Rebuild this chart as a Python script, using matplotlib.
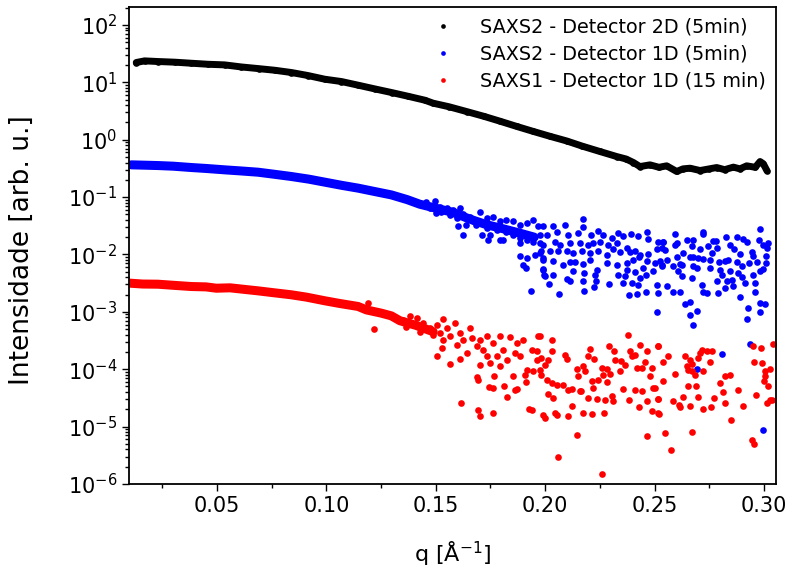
import numpy as np
import matplotlib
matplotlib.use('Agg')
import matplotlib.pyplot as plt
from matplotlib.ticker import MultipleLocator, FormatStrFormatter, LogLocator, NullFormatter

# SAXS2 - detector 2D: readings along the (dense) curve
black_q = [0.0131, 0.0169, 0.0230, 0.0307, 0.0380, 0.0459, 0.0535, 0.0611, 0.0690, 0.0764,
           0.0840, 0.0916, 0.0993, 0.1069, 0.1145, 0.1221, 0.1300, 0.1373, 0.1450, 0.1488,
           0.1560, 0.1641, 0.1720, 0.1793, 0.1870, 0.1946, 0.2020, 0.2098, 0.2170, 0.2250,
           0.2327, 0.2370, 0.2403, 0.2433, 0.2479, 0.2520, 0.2555, 0.2601, 0.2630, 0.2662,
           0.2708, 0.2750, 0.2784, 0.2820, 0.2860, 0.2890, 0.2921, 0.2960, 0.2982, 0.2997, 0.3013]
black_I = [22.1, 23.6, 23.0, 22.4, 21.5, 20.6, 20.1, 18.5, 17.3, 16.2,
           14.8, 13.1, 11.3, 10.3, 8.9, 7.67, 6.6, 5.71, 4.87, 4.32,
           3.75, 3.09, 2.55, 2.10, 1.70, 1.39, 1.15, 0.95, 0.77, 0.622,
           0.508, 0.46, 0.40, 0.34, 0.364, 0.33, 0.35, 0.279, 0.31, 0.318,
           0.290, 0.31, 0.327, 0.30, 0.332, 0.31, 0.35, 0.33, 0.416, 0.38, 0.29]

# SAXS2 - detector 1D: smooth part at low q
blue_band_q = [0.0108, 0.0160, 0.0230, 0.0300, 0.0383, 0.0450, 0.0535, 0.0610, 0.0688, 0.0760,
               0.0840, 0.0920, 0.0992, 0.1070, 0.1145, 0.1220, 0.1297, 0.1370, 0.1427, 0.1500,
               0.1579, 0.1650, 0.1732, 0.1808, 0.1884, 0.1950]
blue_band_I = [0.364, 0.360, 0.354, 0.345, 0.327, 0.315, 0.298, 0.285, 0.271, 0.250,
               0.228, 0.205, 0.182, 0.160, 0.143, 0.125, 0.109, 0.090, 0.075, 0.064,
               0.054, 0.042, 0.033, 0.028, 0.0235, 0.020]

# SAXS2 - detector 1D: scattered points at high q (q, I)
blue_pts = [
    (0.1427, 0.0782), (0.1457, 0.0836), (0.1496, 0.0859), (0.1518, 0.0684), (0.1549, 0.0640),
    (0.1579, 0.0599), (0.1610, 0.0657), (0.1503, 0.0524), (0.1564, 0.0490), (0.1625, 0.0503),
    (0.1656, 0.0458), (0.1701, 0.0560), (0.1671, 0.0375), (0.1732, 0.0429), (0.1762, 0.0458),
    (0.1793, 0.0375), (0.1823, 0.0401), (0.1854, 0.0375), (0.1884, 0.0328), (0.1915, 0.0351),
    (0.1945, 0.0401), (0.1968, 0.0307), (0.1732, 0.0287), (0.1778, 0.0269), (0.1823, 0.0251),
    (0.1854, 0.0220), (0.1884, 0.0192), (0.1915, 0.0180), (0.1945, 0.0168), (0.1976, 0.0157),
    (0.1808, 0.0180), (0.1884, 0.0157), (0.1930, 0.0206), (0.1976, 0.0220), (0.1640, 0.0328),
    (0.1686, 0.0328), (0.1747, 0.0220), (0.1595, 0.0429), (0.1473, 0.0640), (0.1526, 0.0560),
    (0.1602, 0.0307), (0.1625, 0.0220), (0.1709, 0.0220), (0.1739, 0.0180), (0.1793, 0.0180),
    (0.1884, 0.00921), (0.1915, 0.00861), (0.1899, 0.00642), (0.1912, 0.00577), (0.1935, 0.00235),
    (0.1953, 0.00985), (0.1979, 0.0116), (0.1988, 0.00861), (0.1988, 0.00561), (0.1994, 0.00430),
    (0.1991, 0.0307), (0.2037, 0.0307), (0.2090, 0.0328), (0.2171, 0.0412), (0.2174, 0.0299),
    (0.2006, 0.0220), (0.2052, 0.0251), (0.2106, 0.0220), (0.2151, 0.0235), (0.2208, 0.0220),
    (0.2243, 0.0258), (0.2263, 0.0214), (0.2304, 0.0197), (0.2331, 0.0235), (0.2354, 0.0206),
    (0.2391, 0.0226), (0.2426, 0.0206), (0.2467, 0.0244), (0.2471, 0.0187), (0.2517, 0.0168),
    (0.2540, 0.0168), (0.1991, 0.0147), (0.2045, 0.0168), (0.2067, 0.0147), (0.2113, 0.0157),
    (0.2159, 0.0157), (0.2197, 0.0147), (0.2220, 0.0157), (0.2250, 0.0168), (0.2288, 0.0147),
    (0.2327, 0.0157), (0.2372, 0.0132), (0.2410, 0.0113), (0.2433, 0.00985), (0.2471, 0.0103),
    (0.2509, 0.0125), (0.2532, 0.0132), (0.1976, 0.0105), (0.2022, 0.0113), (0.2060, 0.0113),
    (0.2098, 0.0116), (0.2128, 0.0105), (0.2167, 0.0113), (0.2205, 0.0105), (0.2243, 0.0116),
    (0.2281, 0.00985), (0.2311, 0.0125), (0.2342, 0.0110), (0.2387, 0.0110), (0.2430, 0.00885),
    (0.2464, 0.00754), (0.2502, 0.00705), (0.2525, 0.00754), (0.1991, 0.00806), (0.2037, 0.00754),
    (0.2083, 0.00659), (0.2113, 0.00734), (0.2136, 0.00734), (0.2174, 0.00677), (0.2205, 0.00806),
    (0.2235, 0.00540), (0.2281, 0.00705), (0.2330, 0.00642), (0.2372, 0.00705), (0.2403, 0.00806),
    (0.2448, 0.00577), (0.2494, 0.00505), (0.2532, 0.00617), (0.1991, 0.00540), (0.2034, 0.00441),
    (0.1999, 0.00413), (0.2098, 0.00376), (0.2128, 0.00505), (0.2179, 0.00472), (0.2227, 0.00441),
    (0.2232, 0.00338), (0.2293, 0.00304), (0.2334, 0.00441), (0.2365, 0.00413), (0.2375, 0.00540),
    (0.2410, 0.00491), (0.2433, 0.00386), (0.2461, 0.00441), (0.2509, 0.00296), (0.2017, 0.00304),
    (0.2113, 0.00338), (0.2174, 0.00347), (0.2223, 0.00266), (0.2354, 0.00316), (0.2395, 0.00316),
    (0.2426, 0.00288), (0.2063, 0.00203), (0.2177, 0.00232), (0.2384, 0.00193), (0.2421, 0.00203),
    (0.2461, 0.00220), (0.2517, 0.00212), (0.2512, 0.00099),
    (0.2540, 0.0168), (0.2594, 0.0226), (0.2601, 0.0157), (0.2647, 0.0180), (0.2677, 0.0180),
    (0.2720, 0.0226), (0.2723, 0.0244), (0.2769, 0.0173), (0.2781, 0.0173), (0.2827, 0.0200),
    (0.2845, 0.0147), (0.2876, 0.0198), (0.2906, 0.0187), (0.2921, 0.0168), (0.2982, 0.0276),
    (0.2979, 0.0180), (0.2997, 0.0147), (0.3020, 0.0157), (0.3013, 0.0132), (0.2548, 0.0120),
    (0.2594, 0.0147), (0.2632, 0.0108), (0.2670, 0.0138), (0.2708, 0.0125), (0.2746, 0.0143),
    (0.2761, 0.0105), (0.2784, 0.0132), (0.2863, 0.0125), (0.2891, 0.0103), (0.2944, 0.0110),
    (0.2952, 0.00921), (0.3010, 0.00921), (0.2555, 0.00806), (0.2601, 0.00885), (0.2616, 0.00677),
    (0.2662, 0.00885), (0.2677, 0.00885), (0.2700, 0.00861), (0.2723, 0.00839), (0.2754, 0.00806),
    (0.2796, 0.00734), (0.2822, 0.00774), (0.2837, 0.00806), (0.2876, 0.00734), (0.2933, 0.00705),
    (0.2967, 0.00734), (0.3010, 0.00705), (0.2997, 0.00561), (0.2533, 0.00659), (0.2586, 0.00617),
    (0.2624, 0.00659), (0.2677, 0.00617), (0.2693, 0.00577), (0.2751, 0.00577), (0.2799, 0.00540),
    (0.2807, 0.00441), (0.2845, 0.00505), (0.2883, 0.00472), (0.2898, 0.00617), (0.2952, 0.00441),
    (0.2982, 0.00505), (0.2609, 0.00505), (0.2624, 0.00413), (0.2670, 0.00386), (0.2716, 0.00296),
    (0.2784, 0.00347), (0.2830, 0.00338), (0.2853, 0.00361), (0.2898, 0.00397), (0.2914, 0.00316),
    (0.2959, 0.00316), (0.2822, 0.00259), (0.2860, 0.00277), (0.2555, 0.00277), (0.2586, 0.00220),
    (0.2616, 0.00220), (0.2723, 0.00226), (0.2738, 0.00212), (0.2792, 0.00212), (0.2891, 0.00178),
    (0.2959, 0.00220), (0.2639, 0.00136), (0.2662, 0.00148), (0.2693, 0.00104), (0.2662, 0.000887),
    (0.2677, 0.000578), (0.2982, 0.00142), (0.3005, 0.00136), (0.2929, 0.00116), (0.2982, 0.00101),
    (0.2924, 0.000755), (0.2936, 2.77e-4), (0.2807, 1.83e-4), (0.2695, 1.02e-4), (0.2997, 8.8e-6),
]

# SAXS1 - detector 1D: smooth part at low q
red_band_q = [0.0101, 0.0160, 0.0230, 0.0300, 0.0383, 0.0450, 0.0497, 0.0560, 0.0630, 0.0688,
              0.0760, 0.0840, 0.0910, 0.0992, 0.1060, 0.1145, 0.1183, 0.1250, 0.1297, 0.1336,
              0.1410, 0.1488]
red_band_I = [0.00316, 0.00305, 0.00303, 0.00290, 0.00276, 0.00272, 0.00258, 0.00262, 0.00245, 0.00232,
              0.00215, 0.00198, 0.00180, 0.00156, 0.00140, 0.00124, 0.00108, 0.00095, 0.00085, 0.00070,
              0.00058, 0.00045]

# SAXS1 - detector 1D: scattered points at high q (q, I)
red_pts = [
    (0.1217, 5.0e-4), (0.1190, 1.45e-3),
    (0.1351, 7.26e-4), (0.1382, 8.30e-4), (0.1412, 7.76e-4), (0.1366, 5.55e-4), (0.1405, 5.93e-4),
    (0.1443, 6.35e-4), (0.1427, 4.54e-4), (0.1473, 5.19e-4), (0.1504, 5.93e-4), (0.1534, 7.45e-4),
    (0.1488, 3.97e-4), (0.1519, 4.25e-4), (0.1549, 5.19e-4), (0.1587, 6.35e-4), (0.1565, 3.72e-4),
    (0.1610, 4.25e-4), (0.1656, 5.19e-4), (0.1626, 3.25e-4), (0.1664, 3.48e-4), (0.1595, 2.66e-4),
    (0.1534, 3.25e-4), (0.1702, 3.25e-4), (0.1732, 3.82e-4), (0.1687, 2.49e-4), (0.1717, 2.18e-4),
    (0.1763, 2.84e-4), (0.1793, 3.72e-4), (0.1808, 2.18e-4), (0.1839, 3.62e-4), (0.1778, 1.67e-4),
    (0.1732, 1.67e-4), (0.1702, 1.19e-4), (0.1747, 1.28e-4), (0.1793, 1.12e-4), (0.1824, 1.46e-4),
    (0.1862, 1.91e-4), (0.1900, 3.25e-4), (0.1869, 2.84e-4), (0.1885, 1.67e-4), (0.1854, 7.47e-5),
    (0.1915, 9.77e-5), (0.1938, 2.18e-4), (0.1961, 1.46e-4), (0.1946, 9.13e-5), (0.1908, 7.99e-5),
    (0.1968, 3.82e-4), (0.1504, 1.67e-4), (0.1565, 1.24e-4), (0.1610, 1.50e-4), (0.1694, 6.54e-5),
    (0.1690, 7.27e-5), (0.1744, 4.87e-5), (0.1763, 4.68e-5), (0.1766, 7.47e-5), (0.1811, 5.00e-5),
    (0.1827, 3.26e-5), (0.1862, 4.26e-5), (0.1869, 4.50e-5), (0.1912, 5.87e-5), (0.1613, 2.56e-5),
    (0.1694, 1.91e-5), (0.1702, 1.54e-5), (0.1760, 1.72e-5), (0.1927, 2.01e-5), (0.1938, 1.96e-5),
    (0.1641, 1.91e-4), (0.1527, 2.33e-4),
    (0.1976, 3.82e-4), (0.2029, 3.17e-4), (0.1961, 2.04e-4), (0.1983, 1.56e-4), (0.2014, 1.46e-4),
    (0.2029, 2.04e-4), (0.1976, 9.77e-5), (0.1999, 1.19e-4), (0.1983, 7.99e-5), (0.2006, 6.54e-5),
    (0.2029, 5.71e-5), (0.2052, 5.35e-5), (0.2083, 5.35e-5), (0.2090, 1.78e-4), (0.2098, 1.50e-4),
    (0.2105, 4.38e-5), (0.2121, 4.50e-5), (0.2144, 1.00e-4), (0.2151, 7.47e-5), (0.2174, 1.15e-4),
    (0.2182, 9.13e-5), (0.2197, 1.67e-4), (0.2204, 2.24e-4), (0.2224, 1.50e-4), (0.2159, 4.09e-5),
    (0.2212, 6.11e-5), (0.2243, 6.54e-5), (0.2220, 4.68e-5), (0.2258, 1.04e-4), (0.2281, 1.00e-4),
    (0.2265, 7.99e-5), (0.2281, 5.87e-5), (0.2296, 8.32e-5), (0.2291, 2.56e-4), (0.2316, 2.04e-4),
    (0.2319, 1.46e-4), (0.2342, 9.13e-5), (0.2346, 1.40e-4), (0.2364, 1.19e-4), (0.2380, 3.97e-4),
    (0.2387, 2.04e-4), (0.2395, 1.67e-4), (0.2410, 1.78e-4), (0.2418, 1.04e-4), (0.2433, 2.66e-4),
    (0.2441, 1.04e-4), (0.2456, 1.36e-4), (0.2464, 2.04e-4), (0.2479, 7.47e-5), (0.2486, 1.04e-4),
    (0.2494, 4.68e-5), (0.2517, 2.56e-4), (0.2014, 3.73e-5), (0.1991, 1.61e-5), (0.1999, 1.41e-5),
    (0.2037, 3.13e-5), (0.2044, 1.72e-5), (0.2052, 1.61e-5), (0.2102, 1.54e-5), (0.2121, 2.30e-5),
    (0.2163, 4.09e-5), (0.2197, 3.13e-5), (0.2235, 3.01e-5), (0.2273, 2.93e-5), (0.2307, 3.44e-5),
    (0.2311, 2.85e-5), (0.2357, 4.50e-5), (0.2384, 2.93e-5), (0.2410, 4.26e-5), (0.2441, 4.09e-5),
    (0.2467, 2.85e-5), (0.2428, 2.18e-5), (0.2486, 1.84e-5), (0.2517, 1.72e-5), (0.2514, 3.01e-5),
    (0.2174, 1.72e-5), (0.2215, 1.67e-5), (0.2270, 1.72e-5), (0.2144, 7.20e-6), (0.2057, 2.94e-6),
    (0.2258, 1.51e-6), (0.2467, 6.92e-6),
    (0.2517, 2.56e-4), (0.2563, 1.73e-4), (0.2540, 1.36e-4), (0.2639, 1.67e-4), (0.2662, 1.46e-4),
    (0.2673, 1.24e-4), (0.2700, 1.56e-4), (0.2708, 1.91e-4), (0.2715, 2.12e-4), (0.2738, 2.04e-4),
    (0.2764, 2.04e-4), (0.2753, 1.36e-4), (0.2647, 1.12e-4), (0.2654, 9.77e-5), (0.2670, 9.13e-5),
    (0.2685, 7.99e-5), (0.2723, 9.13e-5), (0.2593, 8.32e-5), (0.2822, 7.67e-5), (0.2845, 7.99e-5),
    (0.2799, 5.71e-5), (0.2540, 6.11e-5), (0.2502, 4.68e-5), (0.2654, 5.14e-5), (0.2688, 5.14e-5),
    (0.2814, 3.93e-5), (0.2883, 4.26e-5), (0.2514, 3.01e-5), (0.2586, 2.74e-5), (0.2632, 3.22e-5),
    (0.2612, 2.40e-5), (0.2616, 2.18e-5), (0.2662, 2.30e-5), (0.2700, 3.26e-5), (0.2773, 3.13e-5),
    (0.2822, 2.56e-5), (0.2723, 2.01e-5), (0.2758, 2.18e-5), (0.2906, 2.30e-5), (0.2849, 1.31e-5),
    (0.2520, 1.67e-5), (0.2548, 7.69e-6), (0.2670, 8.11e-6), (0.2575, 3.84e-6), (0.2964, 3.58e-5),
    (0.2952, 2.56e-4), (0.2987, 2.33e-4), (0.3043, 2.77e-4), (0.2956, 1.35e-4), (0.2990, 1.28e-4),
    (0.3005, 9.13e-5), (0.3028, 1.02e-4), (0.3005, 7.47e-5), (0.3002, 6.11e-5), (0.3020, 5.00e-5),
    (0.3013, 2.63e-5), (0.3028, 2.93e-5), (0.3038, 2.93e-5), (0.2944, 5.89e-6), (0.2956, 5.01e-6),
]

labels = ['SAXS2 - Detector 2D (5min)', 'SAXS2 - Detector 1D (5min)', 'SAXS1 - Detector 1D (15 min)']
colors = ['#000000', '#0000ff', '#ff0000']

fig = plt.figure(figsize=(7.93, 5.69), dpi=100)
ax = fig.add_axes([0.1627, 0.1494, 0.8159, 0.8383])

ms = 4.8
# dense curves drawn as thick band + dots
ax.plot(black_q, black_I, '-', color=colors[0], lw=5, solid_capstyle='round')
ax.plot(black_q, black_I, 'o', color=colors[0], ms=ms, mew=0, label=labels[0])

bq, bI = np.array(blue_pts).T
ax.plot(blue_band_q, blue_band_I, '-', color=colors[1], lw=6.5, solid_capstyle='round')
ax.plot(bq, bI, 'o', color=colors[1], ms=ms, mew=0, label=labels[1])

rq, rI = np.array(red_pts).T
ax.plot(red_band_q, red_band_I, '-', color=colors[2], lw=6.5, solid_capstyle='round')
ax.plot(rq, rI, 'o', color=colors[2], ms=ms, mew=0, label=labels[2])

ax.set_yscale('log')
ax.set_xlim(0.0098, 0.3055)
ax.set_ylim(1e-6, 205)

ax.xaxis.set_major_locator(MultipleLocator(0.05))
ax.xaxis.set_minor_locator(MultipleLocator(0.025))
ax.xaxis.set_major_formatter(FormatStrFormatter('%.2f'))
ax.yaxis.set_major_locator(LogLocator(base=10, numticks=20))
ax.yaxis.set_minor_locator(LogLocator(base=10, subs=np.arange(2, 10), numticks=20))
ax.yaxis.set_minor_formatter(NullFormatter())

ax.tick_params(which='both', direction='out', top=False, right=False, width=1.0, labelsize=15)
ax.tick_params(which='major', length=5)
ax.tick_params(which='minor', length=3)
for s in ax.spines.values():
    s.set_linewidth(1.3)

ax.set_ylabel('Intensidade [arb. u.]', fontsize=19)
ax.set_xlabel(r'q [$\mathrm{\AA}^{-1}$]', fontsize=16)
ax.yaxis.set_label_coords(-0.145, 0.49)
ax.xaxis.set_label_coords(0.5, -0.115)

ax.legend(loc='upper right', frameon=False, fontsize=13.8, markerscale=0.7,
          handlelength=2.0, handletextpad=0.9, borderaxespad=0.1, borderpad=0.45,
          labelspacing=0.42)

fig.savefig('out.png', dpi=100)
